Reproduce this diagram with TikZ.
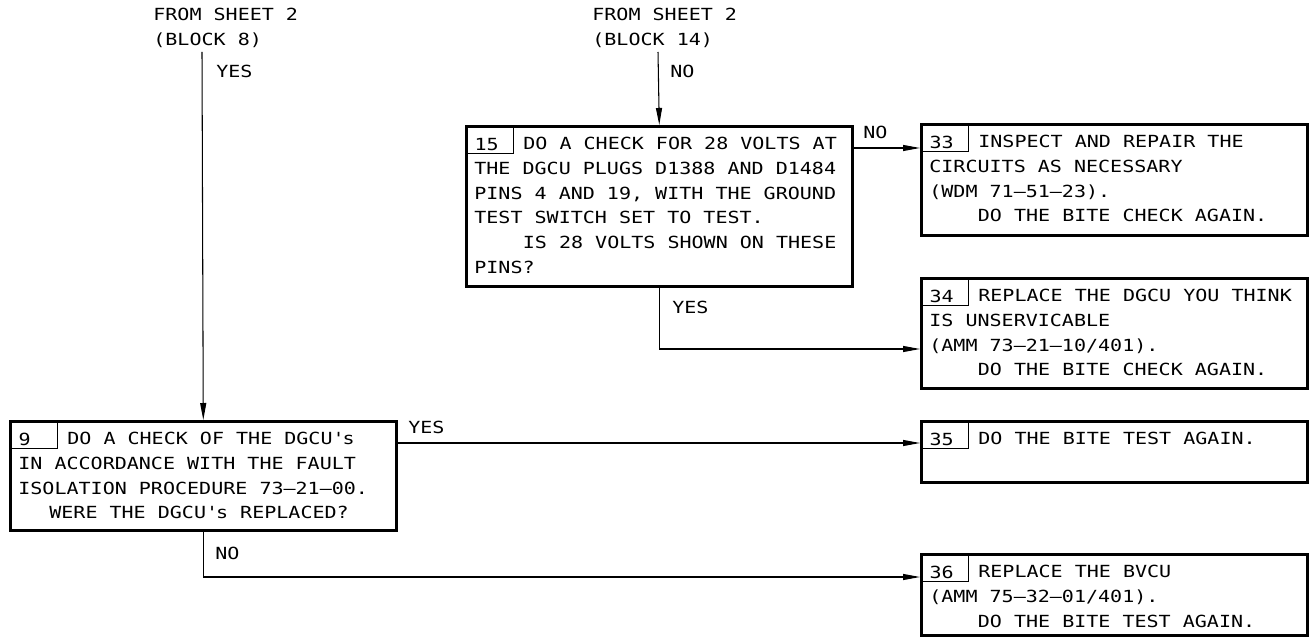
\documentclass[tikz,border=0pt]{standalone}
\usepackage{fontspec}
\usepackage{tikz}
\usetikzlibrary{arrows.meta}
\newfontfamily\dgcufont{DejaVu Sans Mono}[FakeStretch=1.2]
\newcommand\dgcu{\dgcufont\fontsize{9.5}{14.1}\selectfont}
\newcommand\lineas[1]{\begin{tabular}[t]{@{}l@{}}#1\end{tabular}}

\begin{document}
\begin{tikzpicture}[x=0.02cm, y=-0.02cm,
  bloque/.style={draw, line width=1.5pt, anchor=north west, inner sep=0pt, minimum width=7.72cm},
  num/.style={draw, line width=0.6pt, anchor=north west, inner xsep=0.18cm, inner ysep=0pt,
              text height=0.49cm, text depth=0.07cm, font=\dgcu},
  texto/.style={anchor=base west, inner sep=0pt, font=\dgcu},
  flecha/.style={-{Triangle[length=3.4mm, width=1.2mm]}, line width=0.6pt}]
\useasboundingbox (0,0) rectangle (1311,638);
\node[bloque, minimum height=2.18cm] (b9)  at (9,420)   {};
\node[bloque, minimum height=3.2cm]  (b15) at (465,125) {};
\node[bloque, minimum height=2.22cm] (b33) at (920,123) {};
\node[bloque, minimum height=2.2cm]  (b34) at (920,277) {};
\node[bloque, minimum height=1.22cm] (b35) at (920,420) {};
\node[bloque, minimum height=1.62cm] (b36) at (920,553) {};
\foreach \b/\n in {b9/9, b15/15, b33/33, b34/34, b35/35, b36/36}
  \node[num] (n\n) at (\b.north west) {\makebox[0.6cm][l]{\n}};
\node[texto] (t9) at ([shift={(9,24.5)}]b9.north west)
  {\lineas{\hspace*{0.98cm}DO A CHECK OF THE DGCU\textquotesingle s\\IN ACCORDANCE WITH THE FAULT\\ISOLATION PROCEDURE 73–21–00.\\\hspace*{0.62cm}WERE THE DGCU\textquotesingle s REPLACED?}};
\node[texto] (t15) at ([shift={(9,24.5)}]b15.north west)
  {\lineas{\hspace*{0.98cm}DO A CHECK FOR 28 VOLTS AT\\THE DGCU PLUGS D1388 AND D1484\\PINS 4 AND 19, WITH THE GROUND\\TEST SWITCH SET TO TEST.\\\hspace*{0.97cm}IS 28 VOLTS SHOWN ON THESE\\PINS?}};
\node[texto] (t33) at ([shift={(9,24.5)}]b33.north west)
  {\lineas{\hspace*{0.98cm}INSPECT AND REPAIR THE\\CIRCUITS AS NECESSARY\\(WDM 71–51–23).\\\hspace*{0.97cm}DO THE BITE CHECK AGAIN.}};
\node[texto] (t34) at ([shift={(9,24.5)}]b34.north west)
  {\lineas{\hspace*{0.98cm}REPLACE THE DGCU YOU THINK\\IS UNSERVICABLE\\(AMM 73–21–10/401).\\\hspace*{0.97cm}DO THE BITE CHECK AGAIN.}};
\node[texto] (t35) at ([shift={(9,24.5)}]b35.north west)
  {\lineas{\hspace*{0.98cm}DO THE BITE TEST AGAIN.}};
\node[texto] (t36) at ([shift={(9,24.5)}]b36.north west)
  {\lineas{\hspace*{0.98cm}REPLACE THE BVCU\\(AMM 75–32–01/401).\\\hspace*{0.97cm}DO THE BITE TEST AGAIN.}};
\node[texto] (h8)  at (153,21) {\lineas{FROM SHEET 2\\(BLOCK 8)}};
\node[texto] (h14) at (592,21) {\lineas{FROM SHEET 2\\(BLOCK 14)}};
\coordinate (s8)  at (202,52);
\coordinate (s14) at (658,52);
\coordinate (e33) at ([shift={(0,25)}]b33.north west);
\coordinate (e34) at ([shift={(0,72)}]b34.north west);
\coordinate (e35) at ([shift={(0,23)}]b35.north west);
\coordinate (e36) at ([shift={(0,24)}]b36.north west);
\draw[flecha] (s8) -- (b9.north);
\draw[flecha] (s14) -- (b15.north);
\draw[flecha] (b15.east |- e33) -- (e33);
\draw[flecha] (b15.south) |- (e34);
\draw[flecha] (b9.east |- e35) -- (e35);
\draw[flecha] (b9.south) |- (e36);
\node[texto] (si8)  at (216,78)  {YES};
\node[texto] (no14) at (670,78)  {NO};
\node[texto] (no15) at (863,139) {NO};
\node[texto] (si15) at (672,314) {YES};
\node[texto] (si9)  at (408,433) {YES};
\node[texto] (no9)  at (215,559) {NO};
\end{tikzpicture}
\end{document}
